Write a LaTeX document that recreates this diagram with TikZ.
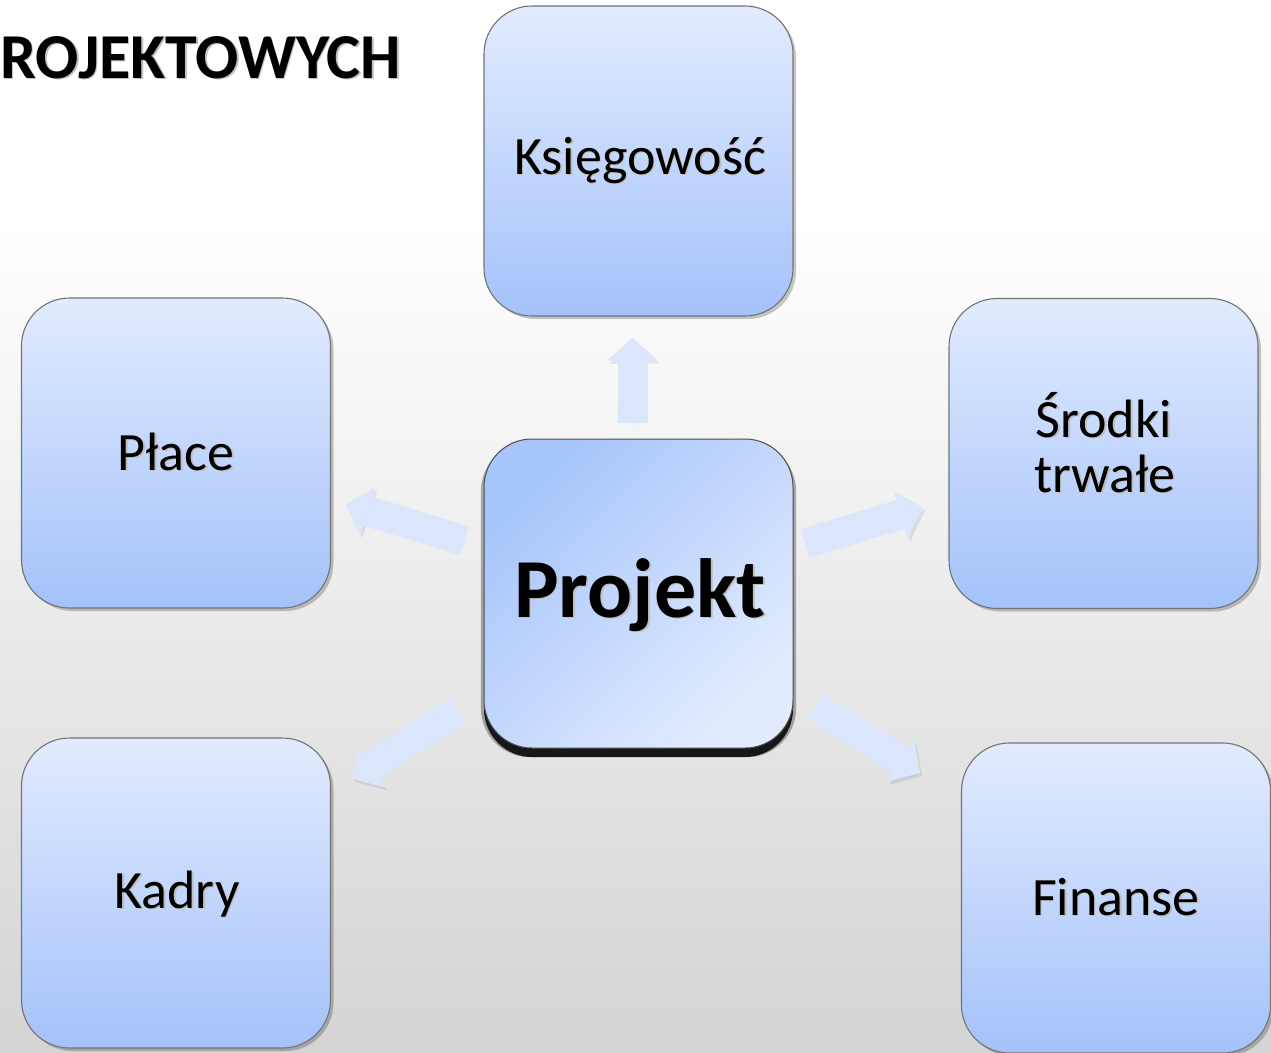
\documentclass[tikz,border=0pt]{standalone}
\usepackage{fontspec}
\setmainfont{Carlito}
\usetikzlibrary{arrows.meta,calc,shadows}
\definecolor{boxtop}{RGB}{226,235,254}
\definecolor{boxbot}{RGB}{164,194,250}
\definecolor{pdark}{RGB}{166,197,250}
\definecolor{plight}{RGB}{226,235,254}
\definecolor{arrowc}{RGB}{219,229,252}
\definecolor{bggray}{RGB}{212,212,212}
\newcommand\shd[1]{\makebox[0pt][l]{\hspace{1.5pt}\raisebox{-1.8pt}{\color{black!25}#1}}#1}
\begin{document}
\begin{tikzpicture}[x=1pt,y=-1pt,
  box/.style={rounded corners=48pt, minimum width=309pt, minimum height=310pt,
    draw=black!55, line width=1.1pt, top color=boxtop, bottom color=boxbot, inner sep=0pt,
    drop shadow={shadow xshift=3pt,shadow yshift=-3pt,opacity=0.22,fill=black}},
  pbox/.style={rounded corners=48pt, minimum width=309pt, minimum height=309pt,
    draw=black!70, line width=1pt, top color=pdark, bottom color=plight, shading angle=45, inner sep=0pt,
    drop shadow={shadow xshift=0pt,shadow yshift=-6pt,shadow scale=1.02,opacity=0.3,fill=black},
    drop shadow={shadow xshift=0pt,shadow yshift=-9pt,opacity=0.85,fill=black}},
  lbl/.style={font=\fontsize{54}{60}\selectfont, inner sep=0pt, anchor=base},
  bigarrow/.style={line width=30pt, draw=arrowc, line cap=butt,
    -{Triangle[width=49pt,length=23pt]},
    preaction={draw=black, opacity=0.08, transform canvas={xshift=2pt,yshift=-3pt}}}
]
\useasboundingbox (0,0) rectangle (1271,1052);
\fill[white] (0,0) rectangle (1271,1052);
\shade[top color=white, bottom color=bggray] (0,220) rectangle (1271,1052);

\node[lbl, anchor=base west, font=\fontsize{64}{70}\selectfont\bfseries] (title) at (0,78) {\shd{ROJEKTOWYCH}};

\node[box] (ksi) at (638.5,161) {};
\node[box] (place) at (176,453) {};
\node[box] (srodki) at (1103.5,453.5) {};
\node[box] (kadry) at (176,893) {};
\node[box] (fin) at (1116,898) {};
\node[pbox] (proj) at (638.5,593.5) {};

\draw[bigarrow] ($(proj.north)+(-6,-16)$) -- ($(ksi.south)+(-6,21)$);
\draw[bigarrow] ($(proj.center)!182pt!(place.center)$) -- ($(proj.center)!306pt!(place.center)$);
\draw[bigarrow] ($(proj.center)!174pt!(srodki.center)$) -- ($(proj.center)!297pt!(srodki.center)$);
\draw[bigarrow] ($(proj.center)!215pt!(kadry.center)$) -- ($(proj.center)!341pt!(kadry.center)$);
\draw[bigarrow] ($(proj.center)!210pt!(fin.center)$) -- ($(proj.center)!334pt!(fin.center)$);

\node[lbl] (ksiT) at (640,174) {\shd{Księgowość}};
\node[lbl] (placeT) at (176,470) {\shd{Płace}};
\node[lbl] (srodkiT1) at (1104,437) {\shd{Środki}};
\node[lbl] (srodkiT2) at (1105,492) {\shd{trwałe}};
\node[lbl] (kadryT) at (177,908) {\shd{Kadry}};
\node[lbl] (finT) at (1116,915) {\shd{Finanse}};
\node[lbl, font=\fontsize{84}{90}\selectfont\bfseries] (projT) at (640,617) {\shd{Projekt}};
\end{tikzpicture}
\end{document}
